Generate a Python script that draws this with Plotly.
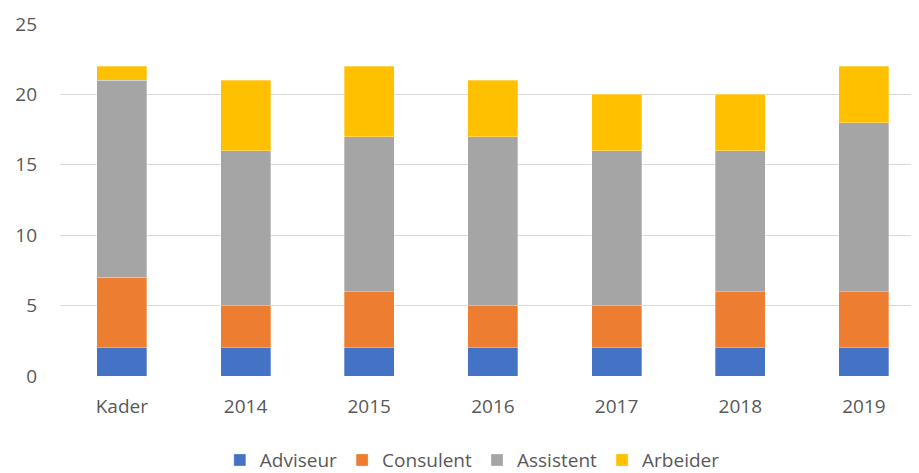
import plotly.graph_objects as go

categories = ["Kader", "2014", "2015", "2016", "2017", "2018", "2019"]
adviseur = [2, 2, 2, 2, 2, 2, 2]
consulent = [5, 3, 4, 3, 3, 4, 4]
assistent = [14, 11, 11, 12, 11, 10, 12]
arbeider = [1, 5, 5, 4, 4, 4, 4]
y_ticks = [0, 5, 10, 15, 20, 25]

series = [
    ("Adviseur", adviseur, "#4472C4"),
    ("Consulent", consulent, "#ED7D31"),
    ("Assistent", assistent, "#A5A5A5"),
    ("Arbeider", arbeider, "#FFC000"),
]

fig = go.Figure()
for name, vals, col in series:
    fig.add_trace(go.Bar(
        x=list(range(len(categories))), y=vals, name=name,
        marker=dict(color=col, line=dict(color="rgba(255,255,255,0.6)", width=0.5)),
    ))

fig.update_layout(
    barmode="stack",
    bargap=0.596,
    width=919, height=473,
    margin=dict(l=52, r=8, t=16, b=105, autoexpand=False),
    plot_bgcolor="white", paper_bgcolor="white",
    font=dict(family="Open Sans, Liberation Sans, Arial", size=19, color="#595959"),
    legend=dict(orientation="h", x=0.48, xanchor="center", y=-0.185, yanchor="top",
                font=dict(size=19, color="#595959"), traceorder="normal",
                itemwidth=30, tracegroupgap=0),
    showlegend=True,
)
fig.update_xaxes(
    tickmode="array", tickvals=list(range(len(categories))), ticktext=categories,
    range=[-0.5, 6.445], showgrid=False, zeroline=False, showline=False,
    ticks="", ticklabelstandoff=17, automargin=False,
)
fig.update_yaxes(
    range=[0, 25], tickvals=y_ticks, showgrid=True, gridcolor="#D9D9D9", gridwidth=1,
    zeroline=False, showline=False, ticks="", ticklabelstandoff=22, automargin=False,
)
fig.write_html("out.html")
